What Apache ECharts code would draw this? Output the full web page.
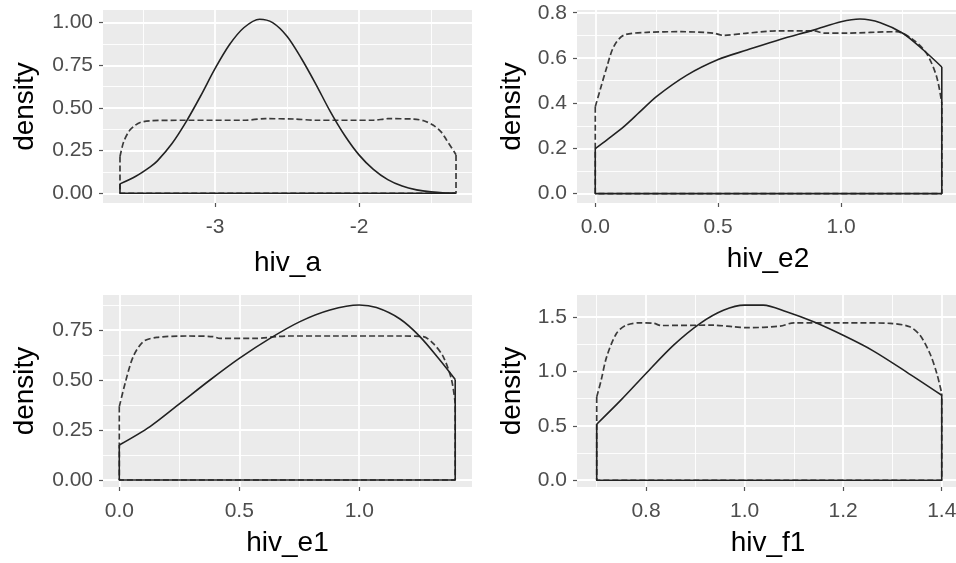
<!DOCTYPE html>
<html>
<head>
    <meta charset="utf-8"/>
    <title>density</title>
    <script src="https://cdn.jsdelivr.net/npm/echarts@6/dist/echarts.min.js"></script>
    <style>
        body { margin: 0; background: #fff; }
        #main { width: 956px; height: 563px; }
    </style>
</head>
<body>
<div id="main"></div>
<script>
// hiv_a
var hivASolid = [[-3.66,0.055],[-3.55,0.10],[-3.45,0.155],[-3.4,0.19],[-3.3,0.29],[-3.2,0.42],[-3.1,0.57],[-3.0,0.73],
    [-2.9,0.87],[-2.8,0.97],[-2.69,1.02],[-2.6,1.0],[-2.5,0.92],[-2.4,0.79],[-2.3,0.64],[-2.2,0.48],[-2.1,0.34],
    [-2.0,0.225],[-1.9,0.14],[-1.8,0.08],[-1.7,0.042],[-1.6,0.02],[-1.5,0.008],[-1.4,0.002],[-1.33,0.001]];
var hivADash = [[-3.66,0.215],[-3.635,0.30],[-3.6,0.36],[-3.567,0.39],[-3.52,0.415],[-3.45,0.425],[-3.2,0.428],
    [-2.8,0.428],[-2.65,0.437],[-2.45,0.435],[-2.3,0.428],[-1.9,0.428],[-1.8,0.437],[-1.62,0.435],[-1.55,0.425],
    [-1.486,0.40],[-1.43,0.36],[-1.393,0.314],[-1.326,0.226]];
var hivAXTicks = [-3, -2], hivAXMinor = [-3.5, -2.5, -1.5];
var hivAYTicks = [0, 0.25, 0.5, 0.75, 1], hivAYMinor = [0.125, 0.375, 0.625, 0.875];

// hiv_e2
var hivE2Solid = [[0,0.199],[0.05,0.24],[0.115,0.295],[0.18,0.36],[0.25,0.43],[0.373,0.524],[0.5,0.593],[0.617,0.635],
    [0.752,0.682],[0.888,0.723],[1.0,0.76],[1.077,0.772],[1.16,0.756],[1.253,0.708],[1.335,0.635],[1.41,0.56]];
var hivE2Dash = [[0,0.384],[0.02,0.46],[0.047,0.56],[0.075,0.65],[0.115,0.70],[0.21,0.713],[0.35,0.716],[0.48,0.71],
    [0.52,0.70],[0.62,0.71],[0.75,0.72],[0.89,0.72],[0.93,0.71],[1.02,0.71],[1.226,0.716],[1.294,0.68],[1.348,0.62],
    [1.389,0.517],[1.41,0.40]];
var hivE2XTicks = [0, 0.5, 1], hivE2XMinor = [0.25, 0.75, 1.25];
var hivE2YTicks = [0, 0.2, 0.4, 0.6, 0.8], hivE2YMinor = [0.1, 0.3, 0.5, 0.7];

// hiv_e1
var hivE1Solid = [[0,0.175],[0.128,0.267],[0.253,0.383],[0.378,0.5],[0.5,0.608],[0.628,0.708],[0.753,0.792],
    [0.878,0.85],[1.0,0.875],[1.072,0.862],[1.17,0.805],[1.253,0.717],[1.336,0.6],[1.4,0.503]];
var hivE1Dash = [[0,0.367],[0.024,0.483],[0.058,0.617],[0.1,0.692],[0.156,0.713],[0.28,0.72],[0.39,0.717],[0.42,0.708],
    [0.56,0.708],[0.7,0.72],[0.89,0.72],[1.17,0.72],[1.267,0.717],[1.308,0.683],[1.35,0.617],[1.385,0.5],[1.4,0.383]];
var hivE1XTicks = [0, 0.5, 1], hivE1XMinor = [0.25, 0.75, 1.25];
var hivE1YTicks = [0, 0.25, 0.5, 0.75], hivE1YMinor = [0.125, 0.375, 0.625, 0.875];

// hiv_f1
var hivF1Solid = [[0.7,0.514],[0.749,0.735],[0.8,0.98],[0.856,1.24],[0.91,1.44],[0.957,1.56],[1.0,1.607],[1.038,1.607],
    [1.085,1.546],[1.14,1.454],[1.2,1.33],[1.26,1.19],[1.328,0.995],[1.4,0.78]];
var hivF1Dash = [[0.7,0.765],[0.709,0.918],[0.72,1.13],[0.74,1.347],[0.76,1.423],[0.788,1.445],[0.816,1.44],[0.83,1.42],
    [0.937,1.423],[0.978,1.408],[1.005,1.40],[1.072,1.414],[1.1,1.445],[1.207,1.445],[1.295,1.44],[1.335,1.408],
    [1.356,1.33],[1.376,1.163],[1.39,0.98],[1.4,0.796]];
var hivF1XTicks = [0.8, 1.0, 1.2, 1.4], hivF1XMinor = [0.7, 0.9, 1.1, 1.3];
var hivF1YTicks = [0, 0.5, 1.0, 1.5], hivF1YMinor = [0.25, 0.75, 1.25];

var panels = [
    {name: 'hiv_a', solid: hivASolid, dash: hivADash, xr: [-3.778, -1.215], yr: [-0.057, 1.074],
        xt: hivAXTicks, xm: hivAXMinor, yt: hivAYTicks, ym: hivAYMinor, xd: 0, yd: 2,
        grid: {left: 103, top: 10, width: 369, height: 193}, yGap: 64, xGap: 46},
    {name: 'hiv_e2', solid: hivE2Solid, dash: hivE2Dash, xr: [-0.0744, 1.48], yr: [-0.0416, 0.812],
        xt: hivE2XTicks, xm: hivE2XMinor, yt: hivE2YTicks, ym: hivE2YMinor, xd: 1, yd: 1,
        grid: {left: 577, top: 10, width: 382, height: 193}, yGap: 51, xGap: 42},
    {name: 'hiv_e1', solid: hivE1Solid, dash: hivE1Dash, xr: [-0.068, 1.47], yr: [-0.035, 0.925],
        xt: hivE1XTicks, xm: hivE1XMinor, yt: hivE1YTicks, ym: hivE1YMinor, xd: 1, yd: 2,
        grid: {left: 103, top: 295, width: 369, height: 192}, yGap: 64, xGap: 42},
    {name: 'hiv_f1', solid: hivF1Solid, dash: hivF1Dash, xr: [0.66, 1.435], yr: [-0.062, 1.70],
        xt: hivF1XTicks, xm: hivF1XMinor, yt: hivF1YTicks, ym: hivF1YMinor, xd: 1, yd: 1,
        grid: {left: 577, top: 295, width: 382, height: 192}, yGap: 51, xGap: 42}
];

var font = "'Liberation Sans', Arial, sans-serif";
var grids = [], xAxes = [], yAxes = [], series = [];

function majorAxis(type, p, i, vals, range, dec) {
    var isX = type === 'x';
    return {
        type: 'value', gridIndex: i, min: range[0], max: range[1],
        position: isX ? 'bottom' : 'left',
        name: isX ? p.name : 'density', nameLocation: 'middle',
        nameGap: isX ? p.xGap : p.yGap,
        nameTextStyle: {color: '#000', fontSize: 28, fontFamily: font},
        axisLine: {show: false, onZero: false},
        axisTick: {show: true, length: 4, customValues: vals, lineStyle: {color: '#555', width: 1.2}},
        axisLabel: {customValues: vals, color: '#4d4d4d', fontSize: 21, fontFamily: font,
            margin: isX ? 14 : 10,
            formatter: function (v) { return v.toFixed(dec); }},
        splitLine: {show: true, lineStyle: {color: '#fff', width: 1.8}}
    };
}

// only white minor grid lines, nothing else shown
function minorAxis(type, i, vals, range) {
    return {
        type: 'value', gridIndex: i, min: range[0], max: range[1],
        position: type === 'x' ? 'top' : 'right',
        axisLine: {show: false, onZero: false},
        axisTick: {show: false, customValues: vals},
        axisLabel: {show: false, customValues: vals},
        splitLine: {show: true, lineStyle: {color: '#fff', width: 0.9}}
    };
}

function edges(pts) {
    var a = pts[0], b = pts[pts.length - 1];
    return [[a[0], a[1]], [a[0], 0], [b[0], 0], [b[0], b[1]]];
}

panels.forEach(function (p, i) {
    grids.push({left: p.grid.left, top: p.grid.top, width: p.grid.width, height: p.grid.height,
        show: true, backgroundColor: '#ebebeb', borderWidth: 0, outerBoundsMode: 'none'});
    xAxes.push(majorAxis('x', p, i, p.xt, p.xr, p.xd));
    yAxes.push(majorAxis('y', p, i, p.yt, p.yr, p.yd));
    xAxes.push(minorAxis('x', i, p.xm, p.xr));
    yAxes.push(minorAxis('y', i, p.ym, p.yr));
    var xi = i * 2, yi = i * 2;
    var dashStyle = {color: '#3a3a3a', width: 1.7, type: [6, 3]};
    var solidStyle = {color: '#222', width: 1.6};
    series.push({type: 'line', xAxisIndex: xi, yAxisIndex: yi, data: p.dash, smooth: 0.3,
        showSymbol: false, symbol: 'none', lineStyle: dashStyle, z: 3, silent: true});
    series.push({type: 'line', xAxisIndex: xi, yAxisIndex: yi, data: edges(p.dash),
        showSymbol: false, symbol: 'none', lineStyle: dashStyle, z: 3, silent: true});
    series.push({type: 'line', xAxisIndex: xi, yAxisIndex: yi, data: p.solid, smooth: 0.3,
        showSymbol: false, symbol: 'none', lineStyle: solidStyle, z: 4, silent: true});
    series.push({type: 'line', xAxisIndex: xi, yAxisIndex: yi, data: edges(p.solid),
        showSymbol: false, symbol: 'none', lineStyle: solidStyle, z: 4, silent: true});
});

var myChart = echarts.init(document.getElementById('main'));
myChart.setOption({
    animation: false,
    backgroundColor: '#fff',
    grid: grids,
    xAxis: xAxes,
    yAxis: yAxes,
    series: series
});
</script>
</body>
</html>
